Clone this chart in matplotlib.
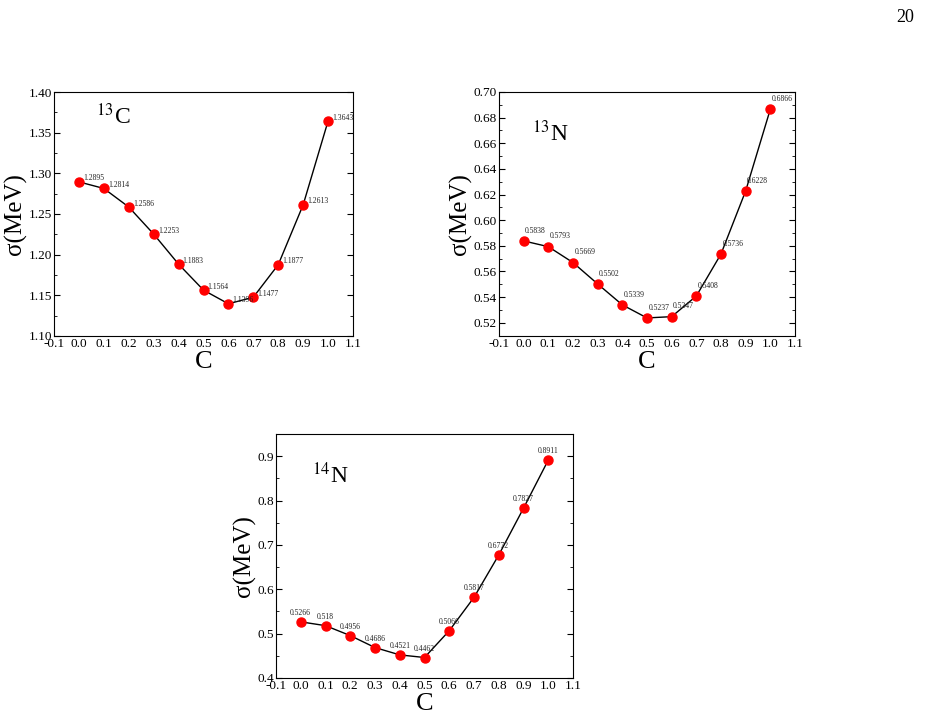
import matplotlib.pyplot as plt
import numpy as np

plt.rcParams['font.family'] = ['Liberation Serif', 'DejaVu Serif']
plt.rcParams['mathtext.fontset'] = 'stix'

# 数据
c_vals = [0.0, 0.1, 0.2, 0.3, 0.4, 0.5, 0.6, 0.7, 0.8, 0.9, 1.0]
sigma_13c = [1.2895, 1.2814, 1.2586, 1.2253, 1.1883, 1.1564, 1.1396, 1.1477, 1.1877, 1.2613, 1.3643]
sigma_13n = [0.5838, 0.5793, 0.5669, 0.5502, 0.5339, 0.5237, 0.5247, 0.5408, 0.5736, 0.6228, 0.6866]
sigma_14n = [0.5266, 0.518, 0.4956, 0.4686, 0.4521, 0.4462, 0.5066, 0.5817, 0.6772, 0.7827, 0.8911]
labels_14n = ['0.5266', '0.518', '0.4956', '0.4686', '0.4521', '0.4462', '0.5066', '0.5817', '0.6772', '0.7827', '0.8911']

W, H = 930, 720
fig = plt.figure(figsize=(9.3, 7.2), dpi=100)


def make_ax(l, t, r, b):
    return fig.add_axes([l / W, 1 - b / H, (r - l) / W, (b - t) / H])


def style(ax, ylim, yticks, yfmt, minor_y):
    ax.set_xlim(-0.1, 1.1)
    ax.set_ylim(*ylim)
    ax.set_xticks(np.arange(-0.1, 1.11, 0.1))
    ax.set_xticklabels(['%.1f' % v for v in np.arange(-0.1, 1.11, 0.1)])
    ax.set_yticks(yticks)
    ax.set_yticklabels([yfmt % v for v in yticks])
    ax.set_yticks(minor_y, minor=True)
    ax.tick_params(axis='both', which='both', direction='in', right=True, labelsize=9.5, pad=1.5)
    ax.tick_params(which='major', length=4)
    ax.tick_params(which='minor', length=2)
    ax.tick_params(axis='x', which='both', length=0)
    for s in ax.spines.values():
        s.set_linewidth(0.8)
    ax.set_xlabel('C', fontsize=19, labelpad=1)
    ax.set_ylabel('σ(MeV)', fontsize=18, labelpad=1)


# 13C
ax1 = make_ax(54, 92, 353, 336)
ax1.plot(c_vals, sigma_13c, color='black', lw=1, marker='o', mfc='red', mec='red', ms=6.5)
for x, y in zip(c_vals, sigma_13c):
    ax1.annotate('%.4f' % y, (x, y), xytext=(3, 1), textcoords='offset points', fontsize=5.5, color='#222222')
style(ax1, (1.10, 1.40), np.arange(1.10, 1.401, 0.05), '%.2f', np.arange(1.125, 1.40, 0.05))
ax1.text(0.14, 0.87, r'$^{13}$C', transform=ax1.transAxes, fontsize=17)

# 13N
ax2 = make_ax(499, 92, 795, 336)
ax2.plot(c_vals, sigma_13n, color='black', lw=1, marker='o', mfc='red', mec='red', ms=6.5)
for x, y in zip(c_vals, sigma_13n):
    ax2.annotate('%.4f' % y, (x, y), xytext=(1, 6), textcoords='offset points', fontsize=5.5, color='#222222')
style(ax2, (0.5096, 0.70), np.arange(0.52, 0.701, 0.02), '%.2f', np.arange(0.53, 0.70, 0.02))
ax2.text(0.11, 0.80, r'$^{13}$N', transform=ax2.transAxes, fontsize=17)

# 14N
ax3 = make_ax(276, 434, 573, 678)
ax3.plot(c_vals, sigma_14n, color='black', lw=1, marker='o', mfc='red', mec='red', ms=6.5)
for x, y, s in zip(c_vals, sigma_14n, labels_14n):
    ax3.annotate(s, (x, y), xytext=(0, 5), textcoords='offset points', fontsize=5.5, ha='center', color='#222222')
style(ax3, (0.4, 0.95), np.arange(0.4, 0.91, 0.1), '%.1f', np.arange(0.45, 0.95, 0.1))
ax3.text(0.12, 0.80, r'$^{14}$N', transform=ax3.transAxes, fontsize=17)

fig.text(905 / W, 1 - 18 / H, '20', fontsize=13, ha='center', va='center')

fig.savefig('out.png', dpi=100)
